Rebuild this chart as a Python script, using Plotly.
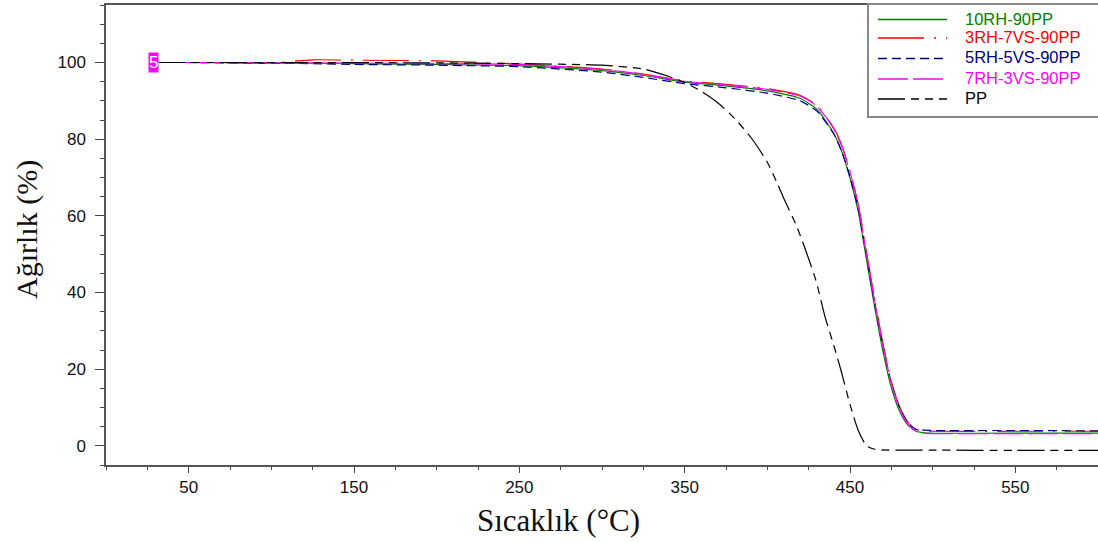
import plotly.graph_objects as go

# ---- data ----
temp_c = [32, 50, 100, 125, 150, 200, 250, 300, 325, 350, 375, 400, 420, 430, 440,
          445, 450, 455, 460, 465, 470, 475, 480, 485, 490, 495, 500, 550, 600]

w_10rh = [100, 100, 99.9, 99.8, 99.7, 99.5, 99.2, 97.9, 96.6, 94.9, 93.9, 92.6, 90.6, 87.8, 81.6,
          76.8, 69.8, 61.0, 48.5, 36.0, 24.5, 15.2, 9.0, 5.4, 3.8, 3.4, 3.3, 3.3, 3.3]
w_3rh7vs = [100, 100, 99.9, 100.7, 100.6, 100.4, 99.6, 98.3, 97.0, 95.2, 94.3, 93.2, 91.4, 88.8, 83.0,
            78.4, 71.6, 63.0, 50.5, 38.0, 26.5, 16.8, 10.2, 6.2, 4.3, 3.9, 3.8, 3.8, 3.8]
w_5rh5vs = [100, 100, 99.8, 99.7, 99.5, 99.3, 98.9, 97.5, 96.1, 94.5, 93.4, 92.0, 90.0, 87.3, 81.5,
            76.8, 70.2, 61.8, 49.5, 37.0, 25.8, 16.4, 9.9, 6.1, 4.3, 4.1, 4.0, 4.0, 3.9]
w_7rh3vs = [100, 100, 99.9, 99.9, 99.8, 99.7, 99.5, 98.2, 96.9, 95.1, 94.1, 93.0, 91.2, 88.6, 82.8,
            78.2, 71.4, 62.6, 50.0, 37.5, 26.0, 16.3, 9.6, 5.7, 3.8, 3.3, 3.2, 3.2, 3.2]

temp_pp = [32, 100, 200, 250, 300, 325, 340, 350, 360, 370, 380, 390, 400, 406, 410,
           418, 429, 435, 440, 445, 450, 455, 460, 465, 500, 550, 600]
w_pp = [100, 100, 99.9, 99.7, 99.3, 98.3, 96.4, 94.8, 92.5, 89.5, 85.5, 80.5, 74.0, 68.5, 64.5,
        57.0, 43.7, 33.5, 26.5, 19.0, 10.8, 4.0, 0.0, -0.9, -1.1, -1.2, -1.2]

names = ["10RH-90PP", "3RH-7VS-90PP", "5RH-5VS-90PP", "7RH-3VS-90PP", "PP"]
colors = ["#008000", "#ff0000", "#000080", "#ff00ff", "#000000"]
dashes = ["solid", "46px,10px,2px,10px", "9px,5px", "30px,5px", "27px,6px,8px,6px,8px,6px"]
values = [w_10rh, w_3rh7vs, w_5rh5vs, w_7rh3vs, w_pp]
temps = [temp_c, temp_c, temp_c, temp_c, temp_pp]

x_ticks = [50, 150, 250, 350, 450, 550]
y_ticks = [0, 20, 40, 60, 80, 100]

# ---- layout geometry (pixels) ----
W, H = 1098, 542
ML, MR, MT, MB = 106, 0, 5, 77
PW, PH = W - ML - MR, H - MT - MB


def px(xp):
    return (xp - ML) / PW


def py(yp):
    return (H - MB - yp) / PH


fig = go.Figure()
for name, ys, xs, col, dash in zip(names, values, temps, colors, dashes):
    fig.add_trace(go.Scatter(
        x=xs, y=ys, mode="lines", name=name, showlegend=False,
        line=dict(color=col, width=1.2, dash=dash, shape="spline", smoothing=0.6),
    ))

# value label at the start of the curves
fig.add_annotation(x=32, y=100, xref="x", yref="y", text="5", showarrow=False,
                   xanchor="right", yanchor="middle", bgcolor="#ff00ff",
                   font=dict(family="Liberation Sans", size=17, color="white"),
                   borderpad=0)

# axis titles
fig.add_annotation(xref="paper", yref="paper", x=px(558), y=0, yshift=-55,
                   text="Sıcaklık (°C)", showarrow=False, xanchor="center", yanchor="middle",
                   font=dict(family="Liberation Serif", size=31, color="#111"))
fig.add_annotation(xref="paper", yref="paper", x=px(27), y=py(230),
                   text="Ağırlık (%)", showarrow=False, textangle=-90,
                   xanchor="center", yanchor="middle",
                   font=dict(family="Liberation Serif", size=30, color="#111"))

# legend box drawn by hand to match the original layout
shapes = [dict(type="rect", xref="paper", yref="paper", x0=px(868), x1=px(1104),
               y0=py(117), y1=py(4), line=dict(color="#888", width=2),
               fillcolor="white", layer="above")]
row_line_y = [19.5, 38, 58.5, 79, 99]
row_text_y = [18.5, 37, 57, 77.5, 97.5]
for name, col, dash, ly, ty in zip(names, colors, dashes, row_line_y, row_text_y):
    shapes.append(dict(type="line", xref="paper", yref="paper",
                       x0=px(878), x1=px(947), y0=py(ly), y1=py(ly),
                       line=dict(color=col, width=1.5, dash=dash), layer="above"))
    fig.add_annotation(xref="paper", yref="paper", x=px(963), y=py(ty), text=name,
                       showarrow=False, xanchor="left", yanchor="middle",
                       font=dict(family="Liberation Sans", size=16.5, color=col))

fig.update_layout(
    width=W, height=H,
    margin=dict(l=ML, r=MR, t=MT, b=MB),
    paper_bgcolor="white", plot_bgcolor="white",
    font=dict(family="Liberation Sans", size=17, color="#111"),
    showlegend=False,
    shapes=shapes,
)
fig.update_xaxes(range=[0, 600], tickmode="array", tickvals=x_ticks,
                 ticks="outside", ticklen=6, tickcolor="#444", showgrid=False,
                 showline=True, linecolor="#555", linewidth=1.5, mirror=True,
                 zeroline=False,
                 minor=dict(tickmode="linear", tick0=0, dtick=25, ticks="outside",
                            ticklen=3, tickcolor="#444"),
                 tickfont=dict(size=17, color="#111"))
fig.update_yaxes(range=[-5, 115], tickmode="array", tickvals=y_ticks,
                 ticks="outside", ticklen=9, tickcolor="#444", showgrid=False,
                 showline=True, linecolor="#555", linewidth=1.5, zeroline=False,
                 ticklabelstandoff=6,
                 minor=dict(tickmode="linear", tick0=0, dtick=5, ticks="outside",
                            ticklen=4, tickcolor="#444"),
                 tickfont=dict(size=17, color="#111"))

fig.write_html("out.html")
